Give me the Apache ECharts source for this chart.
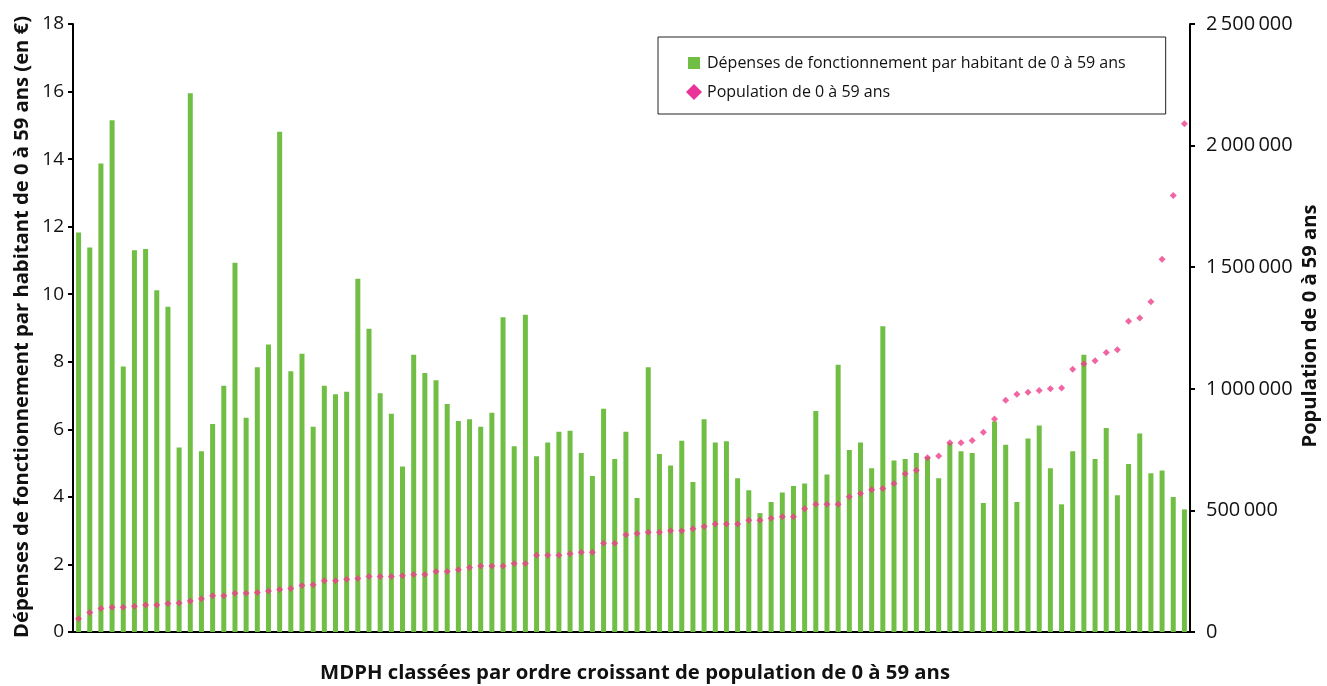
<!DOCTYPE html>
<html>
<head>
<meta charset="utf-8">
<script src="https://cdn.jsdelivr.net/npm/echarts@6/dist/echarts.min.js"></script>
<style>
html,body{margin:0;padding:0;background:#fff;}
#chart{width:1327px;height:686px;}
</style>
</head>
<body>
<div id="chart"></div>
<script>
const depenses = [
  11.83, 11.38, 13.87, 15.15, 7.86, 11.30, 11.34, 10.12, 9.63, 5.46,
  15.95, 5.35, 6.16, 7.29, 10.93, 6.34, 7.84, 8.51, 14.81, 7.72,
  8.24, 6.08, 7.29, 7.04, 7.11, 10.46, 8.98, 7.07, 6.46, 4.90,
  8.21, 7.67, 7.45, 6.75, 6.25, 6.30, 6.08, 6.49, 9.32, 5.50,
  9.39, 5.20, 5.61, 5.93, 5.96, 5.30, 4.62, 6.61, 5.12, 5.93,
  3.97, 7.84, 5.27, 4.93, 5.66, 4.44, 6.30, 5.61, 5.65, 4.55,
  4.20, 3.52, 3.85, 4.13, 4.32, 4.40, 6.54, 4.66, 7.91, 5.39,
  5.61, 4.85, 9.05, 5.08, 5.12, 5.30, 5.19, 4.55, 5.60, 5.35,
  5.30, 3.82, 6.23, 5.54, 3.85, 5.73, 6.11, 4.85, 3.78, 5.35,
  8.21, 5.12, 6.04, 4.05, 4.97, 5.88, 4.70, 4.78, 4.00, 3.63
];
const population = [
  54700, 80400, 96500, 101300, 101300, 106100, 110900, 110900, 117400, 118900,
  127000, 136600, 149500, 149500, 159100, 159100, 162400, 168800, 175200, 178400,
  191300, 194500, 210600, 210600, 217000, 220200, 228300, 228300, 228300, 231500,
  236300, 236300, 249200, 249200, 255600, 265200, 271700, 271700, 271700, 281300,
  281300, 315100, 315100, 315100, 321500, 327900, 327900, 364900, 364900, 400300,
  405100, 409900, 409900, 416300, 416300, 424400, 434000, 443600, 443600, 443600,
  459700, 459700, 467800, 474200, 474200, 506400, 525700, 525700, 525700, 556200,
  569100, 585200, 590000, 610900, 651100, 665500, 717000, 723400, 778100, 778100,
  787700, 821400, 876100, 953200, 977400, 985400, 993500, 999900, 1003100, 1080300,
  1102800, 1115600, 1149300, 1160600, 1277900, 1290800, 1358300, 1533000, 1795000, 2090000
];
const categories = depenses.map((_, i) => 'MDPH ' + (i + 1));
const seriesNames = ['Dépenses de fonctionnement par habitant de 0 à 59 ans', 'Population de 0 à 59 ans'];
const axisTitles = {
  left: 'Dépenses de fonctionnement par habitant de 0 à 59 ans (en €)',
  right: 'Population de 0 à 59 ans',
  bottom: 'MDPH classées par ordre croissant de population de 0 à 59 ans'
};

const titleFontCss = 'bold 20px "Open Sans", "Noto Sans", sans-serif';
const measureCtx = document.createElement('canvas').getContext('2d');
measureCtx.font = titleFontCss;
function fitScale(text, target) {
  return target / measureCtx.measureText(text).width;
}
function titleText(text, x, y, rot, target) {
  return {
    type: 'text', x: x, y: y, rotation: rot,
    scaleX: fitScale(text, target), scaleY: 1,
    silent: true,
    style: {text: text, font: titleFontCss, fill: '#111', align: 'center', verticalAlign: 'middle'}
  };
}

const tickFont = {fontFamily: '"Open Sans","Noto Sans",sans-serif', color: '#111'};

const chart = echarts.init(document.getElementById('chart'), null, {renderer: 'canvas'});
chart.setOption({
  animation: false,
  backgroundColor: '#fff',
  grid: {left: 73, right: 137, top: 24, bottom: 54, containLabel: false, outerBoundsMode: 'none'},
  legend: {
    orient: 'vertical',
    left: 658, top: 37,
    padding: [18, 40, 14, 28],
    itemGap: 13,
    itemWidth: 16, itemHeight: 16,
    borderColor: '#222', borderWidth: 1,
    backgroundColor: '#fff',
    textStyle: {fontFamily: '"Open Sans","Noto Sans",sans-serif', fontSize: 16, color: '#111'},
    data: [
      {name: seriesNames[0], icon: 'path://M0,0L0,0.01M16,16L16,16.01M2,2L14,2L14,14L2,14Z', itemStyle: {color: '#70bf44', borderWidth: 0}},
      {name: seriesNames[1], icon: 'diamond', itemStyle: {color: '#e5007e', borderWidth: 0}}
    ]
  },
  graphic: [
    titleText(axisTitles.left, 22, 327, Math.PI / 2, 622),
    titleText(axisTitles.right, 1310, 326, Math.PI / 2, 243),
    titleText(axisTitles.bottom, 635, 673, 0, 630)
  ],
  xAxis: {
    type: 'category',
    data: categories,
    boundaryGap: true,
    axisLine: {lineStyle: {color: '#000', width: 2}},
    axisTick: {show: false},
    axisLabel: {show: false}
  },
  yAxis: [
    {
      type: 'value', min: 0, max: 18, interval: 2,
      splitLine: {show: false},
      axisLine: {show: true, lineStyle: {color: '#000', width: 2}},
      axisTick: {show: true, length: 5, lineStyle: {color: '#000', width: 2}},
      axisLabel: Object.assign({margin: 9, fontSize: 19}, tickFont)
    },
    {
      type: 'value', min: 0, max: 2500000, interval: 500000,
      position: 'right',
      splitLine: {show: false},
      axisLine: {show: true, lineStyle: {color: '#000', width: 2}},
      axisTick: {show: true, length: 5, lineStyle: {color: '#000', width: 2}},
      axisLabel: Object.assign({
        margin: 16, fontSize: 20,
        formatter: v => String(v).replace(/\B(?=(\d{3})+(?!\d))/g, '\u2009')
      }, tickFont)
    }
  ],
  series: [
    {
      name: seriesNames[0],
      type: 'bar',
      data: depenses,
      barWidth: 5,
      itemStyle: {color: '#70bf44'},
      z: 2
    },
    {
      name: seriesNames[1],
      type: 'scatter',
      yAxisIndex: 1,
      data: population,
      symbol: 'diamond',
      symbolSize: 7,
      itemStyle: {color: '#ec3f8b'},
      z: 3
    }
  ]
});
</script>
</body>
</html>
